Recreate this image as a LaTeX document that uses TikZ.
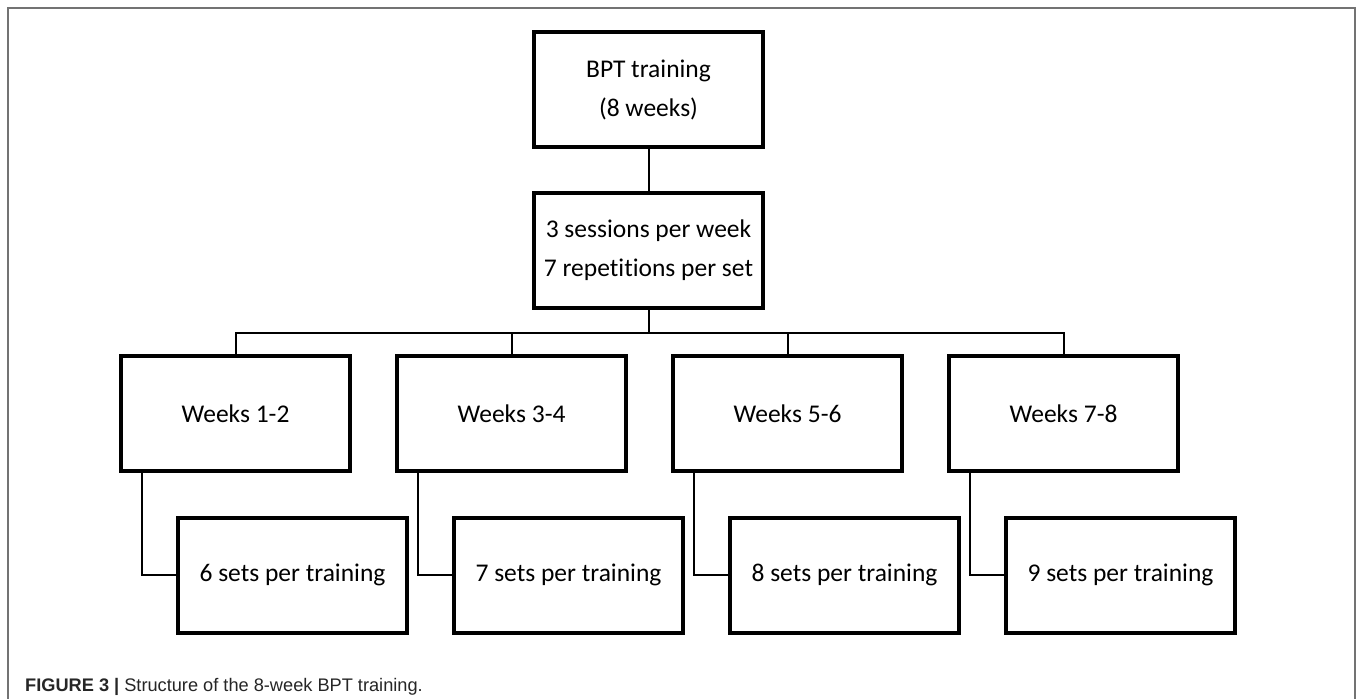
\documentclass[tikz,border=0pt]{standalone}
\usepackage{fontspec}
\setmainfont[Ligatures=NoCommon]{Carlito}
\newfontfamily\capfont{Liberation Sans}
\begin{document}
\begin{tikzpicture}[x=1pt,y=-1pt,
  box/.style={draw=black,line width=4pt,rectangle,minimum width=229pt,minimum height=115pt,
    inner sep=0pt,align=center,font=\fontsize{25.5}{39}\selectfont,text=black},
  link/.style={draw=black,line width=2pt},
  frame/.style={draw=black!55,line width=1.5pt}]
\useasboundingbox (0,0) rectangle (1358,699);
\fill[white] (0,0) rectangle (1358,699);
\draw[frame] (8,699) -- (8,8) -- (1355,8) -- (1355,699);

\node[box] (top) at (648.5,89.5) {BPT training\\(8 weeks)};
\node[box] (mid) at (648.5,250.5) {3 sessions per week\\7 repetitions per set};
\coordinate (bus) at (648.5,333);

\node[box] (w1) at (235.5,413.5) {Weeks 1-2};
\node[box] (w2) at (511.5,413.5) {Weeks 3-4};
\node[box] (w3) at (787.5,413.5) {Weeks 5-6};
\node[box] (w4) at (1063.5,413.5) {Weeks 7-8};

\node[box] (s1) at (292.5,575) {6 sets per training};
\node[box] (s2) at (568.5,575) {7 sets per training};
\node[box] (s3) at (844.5,575) {8 sets per training};
\node[box] (s4) at (1120.5,575) {9 sets per training};

\draw[link] (top.south) -- (mid.north);
\draw[link] (mid.south) -- (bus);
\draw[link] (w1.north) |- (bus) -| (w4.north);
\draw[link] (w2.north) -- (w2.north |- bus);
\draw[link] (w3.north) -- (w3.north |- bus);

\foreach \i in {1,2,3,4}{
  \draw[link] ([xshift=23pt]w\i.south west) |- (s\i.west);
}

\node[anchor=base west,inner sep=0pt,font=\capfont\fontsize{18.2}{22}\selectfont,text=black!85] (cap) at (25,691)
  {\textbf{FIGURE 3 |} Structure of the 8-week BPT training.};
\end{tikzpicture}
\end{document}
